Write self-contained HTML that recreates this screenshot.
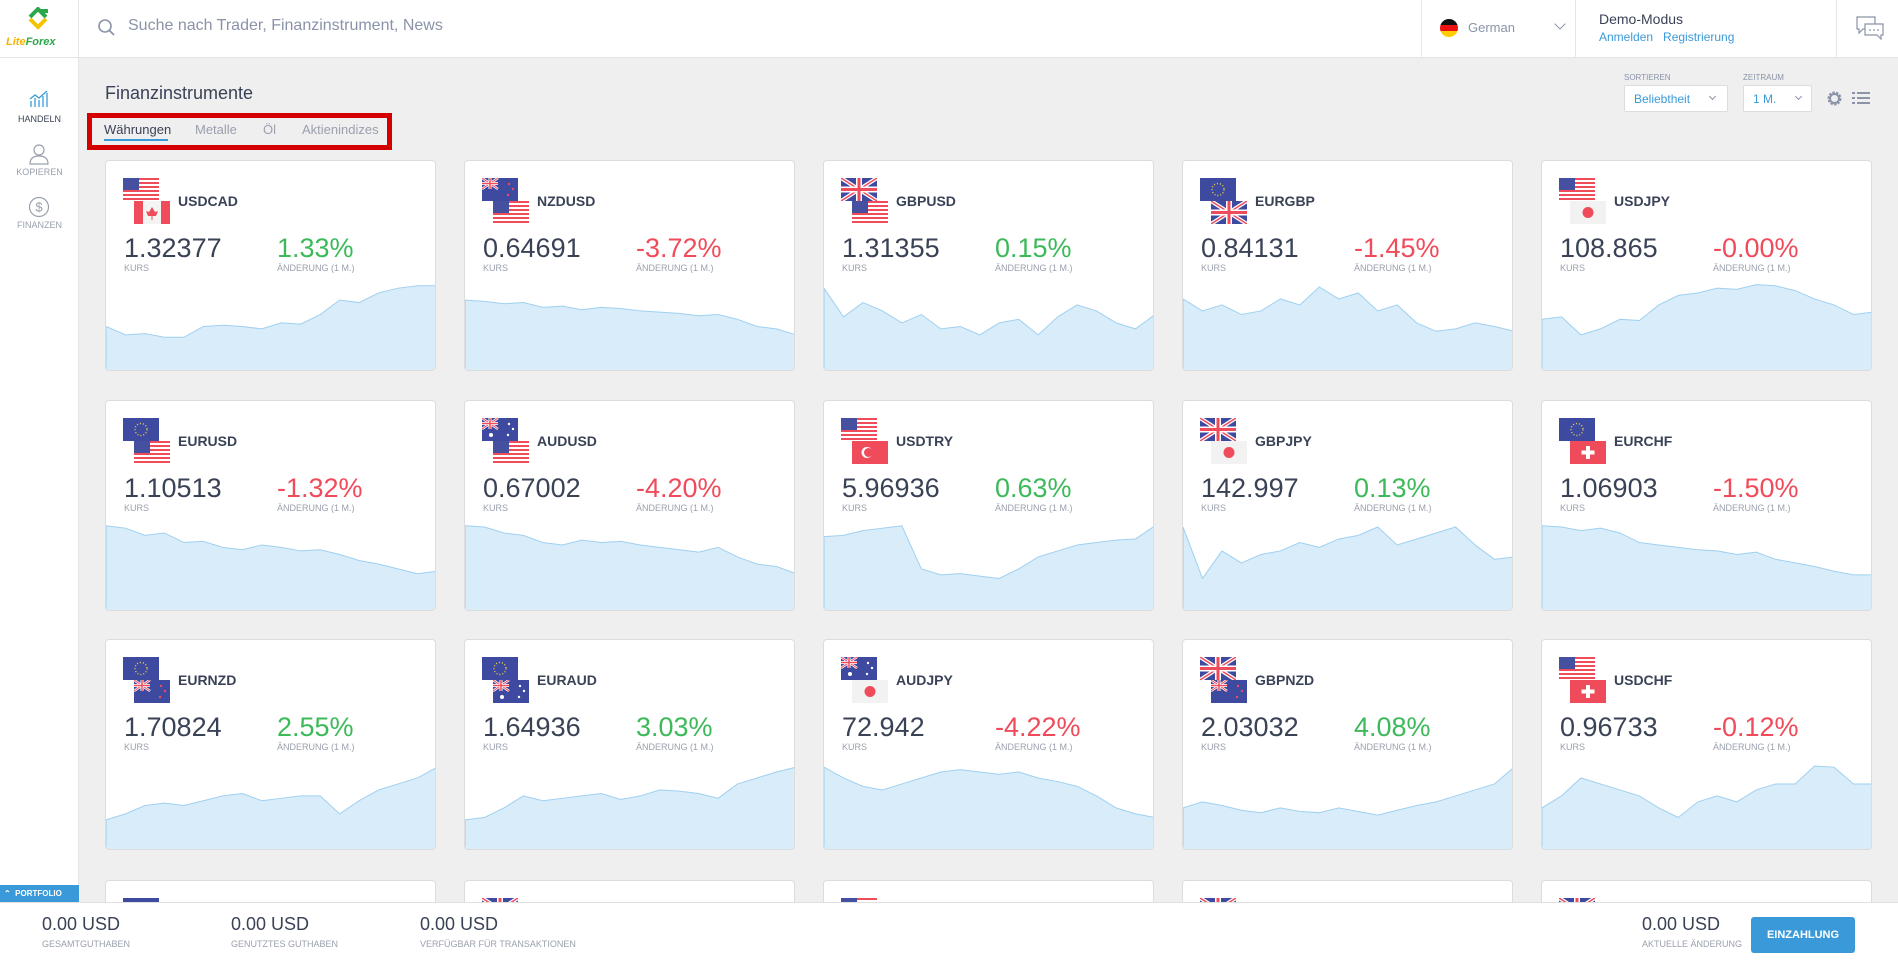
<!DOCTYPE html>
<html style="width:1898px;height:961px;overflow:hidden"><head><meta charset="utf-8">
<style>
*{margin:0;padding:0;box-sizing:border-box}
body{width:1898px;height:961px;overflow:hidden;background:#efefef;font-family:"Liberation Sans",sans-serif;color:#3a4256;position:relative}
.hdr{position:absolute;left:0;top:0;width:1898px;height:58px;background:#fff;border-bottom:1px solid #e3e3e3;z-index:5}
.side{position:absolute;left:0;top:58px;width:79px;height:844px;background:#fff;border-right:1px solid #e6e6e6;z-index:4}
.sep{position:absolute;top:0;height:58px;border-left:1px solid #e6e6e6}
.card{position:absolute;width:331px;height:211px;background:#fff;border:1px solid #dcdcdc;border-radius:4px;overflow:hidden}
.card.s{height:22px;border-bottom:none;border-radius:4px 4px 0 0}
.f1,.f2{position:absolute;width:36px;height:23px}
.f1{left:17px;top:17px}.f2{left:28px;top:40px}
.sym{position:absolute;left:72px;top:32px;font-size:14px;font-weight:bold;color:#3a4256}
.pr{position:absolute;left:18px;top:72px;font-size:27px;color:#3a4256}
.ch{position:absolute;left:171px;top:72px;font-size:27px}
.g{color:#3cba5a}.r{color:#f04b5a}
.lb{position:absolute;top:102px;font-size:9px;color:#9aa0ad}
.chart{position:absolute;left:0;top:120px;width:331px;height:91px}
.bot{position:absolute;left:0;top:902px;width:1898px;height:59px;background:#fff;border-top:1px solid #e0e0e0;z-index:6}
.bv{position:absolute;top:11px;font-size:18px;color:#3a4256}
.bl{position:absolute;top:36px;font-size:9px;color:#9aa0ad}
</style></head><body>
<svg width="0" height="0" style="position:absolute">
<defs>
<symbol id="us" viewBox="0 0 36 23"><rect width="36" height="23" fill="#fff"/><g fill="#f04b5a"><rect y="0" width="36" height="2"/><rect y="4" width="36" height="2"/><rect y="8" width="36" height="2"/><rect y="12" width="36" height="2"/><rect y="16" width="36" height="2"/><rect y="20" width="36" height="2"/></g><rect width="16" height="12" fill="#4650a0"/></symbol>
<symbol id="ca" viewBox="0 0 36 23"><rect width="36" height="23" fill="#f4f4f4"/><rect width="9" height="23" fill="#f04b5a"/><rect x="27" width="9" height="23" fill="#f04b5a"/><path d="M18 6 L21 11 L24 10 L22 15 L14 15 L12 10 L15 11 Z" fill="#f04b5a"/><rect x="17.5" y="15" width="1" height="4" fill="#f04b5a"/></symbol>
<symbol id="eu" viewBox="0 0 36 23"><rect width="36" height="23" fill="#3d4aa0"/><circle cx="18" cy="11.5" r="6" fill="none" stroke="#f5d33c" stroke-width="1.4" stroke-dasharray="1 2"/></symbol>
<symbol id="gb" viewBox="0 0 36 23"><rect width="36" height="23" fill="#3d4aa0"/><path d="M0 0L36 23M36 0L0 23" stroke="#fff" stroke-width="4"/><path d="M0 0L36 23M36 0L0 23" stroke="#f04b5a" stroke-width="1.5"/><path d="M18 0V23M0 11.5H36" stroke="#fff" stroke-width="6"/><path d="M18 0V23M0 11.5H36" stroke="#f04b5a" stroke-width="3"/></symbol>
<symbol id="au" viewBox="0 0 36 23"><rect width="36" height="23" fill="#3d4aa0"/><path d="M0 0L16 11M16 0L0 11" stroke="#fff" stroke-width="2.5"/><path d="M0 0L16 11M16 0L0 11" stroke="#f04b5a" stroke-width="1"/><path d="M8 0V11M0 5.5H16" stroke="#fff" stroke-width="3"/><path d="M8 0V11M0 5.5H16" stroke="#f04b5a" stroke-width="1.5"/><g fill="#fff"><circle cx="27" cy="6" r="1.2"/><circle cx="31" cy="11" r="1.2"/><circle cx="26" cy="17" r="1.2"/><circle cx="9" cy="17" r="2"/></g></symbol>
<symbol id="nz" viewBox="0 0 36 23"><rect width="36" height="23" fill="#3d4aa0"/><path d="M0 0L16 11M16 0L0 11" stroke="#fff" stroke-width="2.5"/><path d="M0 0L16 11M16 0L0 11" stroke="#f04b5a" stroke-width="1"/><path d="M8 0V11M0 5.5H16" stroke="#fff" stroke-width="3"/><path d="M8 0V11M0 5.5H16" stroke="#f04b5a" stroke-width="1.5"/><g fill="#f04b5a"><circle cx="27" cy="6" r="1.2"/><circle cx="31" cy="11" r="1.2"/><circle cx="26" cy="17" r="1.2"/></g></symbol>
<symbol id="jp" viewBox="0 0 36 23"><rect width="36" height="23" fill="#f2f2f2"/><circle cx="18" cy="11.5" r="5.5" fill="#f04b5a"/></symbol>
<symbol id="tr" viewBox="0 0 36 23"><rect width="36" height="23" fill="#f04b5a"/><circle cx="15" cy="11.5" r="5.5" fill="#fff"/><circle cx="16.5" cy="11.5" r="4.5" fill="#f04b5a"/></symbol>
<symbol id="ch" viewBox="0 0 36 23"><rect width="36" height="23" fill="#f04b5a"/><rect x="16" y="5" width="4" height="13" fill="#fff"/><rect x="11.5" y="9.5" width="13" height="4" fill="#fff"/></symbol>
</defs></svg>

<div class="hdr">
 <div style="position:absolute;left:0;top:0;width:79px;height:58px;border-right:1px solid #e6e6e6">
  <svg style="position:absolute;left:26px;top:7px" width="26" height="24" viewBox="0 0 26 24"><path d="M4 12 L12 20 L20 12" fill="none" stroke="#f5c400" stroke-width="4"/><path d="M4 10 L12 2 L20 10 M14 4 L22 4" fill="none" stroke="#2aa84a" stroke-width="4"/></svg>
  <div style="position:absolute;left:6px;top:36px;font-size:11px;font-weight:bold;font-style:italic;color:#f5b400">Lite<span style="color:#2aa84a">Forex</span></div>
 </div>
 <svg style="position:absolute;left:97px;top:18px" width="20" height="20" viewBox="0 0 20 20"><circle cx="8" cy="8" r="6" fill="none" stroke="#8a93a8" stroke-width="1.6"/><path d="M12.5 12.5L17 17" stroke="#8a93a8" stroke-width="1.8"/></svg>
 <div style="position:absolute;left:128px;top:17px;font-size:16px;color:#8a93a8">Suche nach Trader, Finanzinstrument, News</div>
 <div class="sep" style="left:1421px"></div>
 <div style="position:absolute;left:1440px;top:19px;width:18px;height:18px;border-radius:50%;background:linear-gradient(#111 0 33%,#e11 33% 66%,#fc0 66%)"></div>
 <div style="position:absolute;left:1468px;top:20px;font-size:13px;color:#8a93a8">German</div>
 <div style="position:absolute;left:1556px;top:20px;width:8px;height:8px;border-right:1px solid #8a93a8;border-bottom:1px solid #8a93a8;transform:rotate(45deg)"></div>
 <div class="sep" style="left:1575px"></div>
 <div style="position:absolute;left:1599px;top:11px;font-size:14px;color:#3a4256">Demo-Modus</div>
 <div style="position:absolute;left:1599px;top:30px;font-size:12px;color:#3a9ad9">Anmelden&nbsp;&nbsp;&nbsp;Registrierung</div>
 <div class="sep" style="left:1836px"></div>
 <svg style="position:absolute;left:1856px;top:16px" width="28" height="24" viewBox="0 0 28 24"><path d="M1 1H19V13H7L3 17V13H1Z" fill="none" stroke="#8a93a8" stroke-width="1.2"/><path d="M9 8H27V19H25V23L21 19H9Z" fill="#fff" stroke="#8a93a8" stroke-width="1.2"/><g fill="#8a93a8"><circle cx="14" cy="14" r="0.9"/><circle cx="18" cy="14" r="0.9"/><circle cx="22" cy="14" r="0.9"/></g></svg>
</div>

<div class="side">
 <svg style="position:absolute;left:29px;top:32px" width="20" height="18" viewBox="0 0 20 18"><g fill="none" stroke="#3a9ad9" stroke-width="1.3"><path d="M2 17V11M6 17V8M10 17V10M14 17V6M18 17V3"/><path d="M1 9L6 5L10 8L18 1"/></g></svg>
 <div style="position:absolute;left:0;width:79px;top:56px;text-align:center;font-size:9px;color:#3a4256">HANDELN</div>
 <svg style="position:absolute;left:28px;top:85px" width="22" height="22" viewBox="0 0 22 22"><g fill="none" stroke="#9aa0ad" stroke-width="1.2"><circle cx="11" cy="7" r="5"/><path d="M2 21C2 15 6 13 11 13C16 13 20 15 20 21Z"/></g></svg>
 <div style="position:absolute;left:0;width:79px;top:109px;text-align:center;font-size:9px;color:#9aa0ad">KOPIEREN</div>
 <svg style="position:absolute;left:28px;top:138px" width="22" height="22" viewBox="0 0 22 22"><circle cx="11" cy="11" r="9.5" fill="none" stroke="#9aa0ad" stroke-width="1.2"/><text x="11" y="15.5" text-anchor="middle" font-size="13" fill="#9aa0ad" font-family="Liberation Sans">$</text></svg>
 <div style="position:absolute;left:0;width:79px;top:162px;text-align:center;font-size:9px;color:#9aa0ad">FINANZEN</div>
 <div style="position:absolute;left:0;top:827px;width:79px;height:17px;background:#3a9ad9;color:#fff;font-size:8px;font-weight:bold;line-height:17px;padding-left:4px">&#8963; &nbsp;PORTFOLIO</div>
</div>

<div style="position:absolute;left:105px;top:83px;font-size:18px;color:#3a4256">Finanzinstrumente</div>
<div style="position:absolute;left:87px;top:113px;width:305px;height:37px;border:5px solid #d40000"></div>
<div style="position:absolute;left:104px;top:122px;font-size:13px;color:#3a4256">Währungen</div>
<div style="position:absolute;left:104px;top:139px;width:64px;height:2px;background:#3a9ad9"></div>
<div style="position:absolute;left:195px;top:122px;font-size:13px;color:#9aa0ad">Metalle</div>
<div style="position:absolute;left:263px;top:122px;font-size:13px;color:#9aa0ad">Öl</div>
<div style="position:absolute;left:302px;top:122px;font-size:13px;color:#9aa0ad">Aktienindizes</div>

<div style="position:absolute;left:1624px;top:73px;font-size:8px;color:#8a93a8">SORTIEREN</div>
<div style="position:absolute;left:1624px;top:85px;width:104px;height:27px;background:#fff;border:1px solid #dcdcdc;border-radius:2px;font-size:12px;color:#3a9ad9;padding:6px 0 0 9px">Beliebtheit</div>
<div style="position:absolute;left:1710px;top:94px;width:5px;height:5px;border-right:1px solid #8a93a8;border-bottom:1px solid #8a93a8;transform:rotate(45deg)"></div>
<div style="position:absolute;left:1743px;top:73px;font-size:8px;color:#8a93a8">ZEITRAUM</div>
<div style="position:absolute;left:1743px;top:85px;width:69px;height:27px;background:#fff;border:1px solid #dcdcdc;border-radius:2px;font-size:12px;color:#3a9ad9;padding:6px 0 0 9px">1 M.</div>
<div style="position:absolute;left:1796px;top:94px;width:5px;height:5px;border-right:1px solid #8a93a8;border-bottom:1px solid #8a93a8;transform:rotate(45deg)"></div>
<svg style="position:absolute;left:1826px;top:90px" width="17" height="17" viewBox="0 0 17 17"><circle cx="8.5" cy="8.5" r="5.5" fill="none" stroke="#8a93a8" stroke-width="3" stroke-dasharray="2.2 1.2"/><circle cx="8.5" cy="8.5" r="4.5" fill="none" stroke="#8a93a8" stroke-width="2"/></svg>
<svg style="position:absolute;left:1852px;top:91px" width="18" height="15" viewBox="0 0 18 15"><g fill="#8a93a8"><rect x="0" y="1" width="3" height="2"/><rect x="5" y="1" width="13" height="2"/><rect x="0" y="6" width="3" height="2"/><rect x="5" y="6" width="13" height="2"/><rect x="0" y="11" width="3" height="2"/><rect x="5" y="11" width="13" height="2"/></g></svg>

<!-- ROW 1 -->
<div class="card" style="left:105px;top:160px"><svg class="f1"><use href="#us"/></svg><svg class="f2"><use href="#ca"/></svg><div class="sym">USDCAD</div><div class="pr">1.32377</div><div class="lb" style="left:18px">KURS</div><div class="ch g">1.33%</div><div class="lb" style="left:171px">ÄNDERUNG (1 M.)</div>
<svg class="chart" viewBox="0 0 170 76" preserveAspectRatio="none"><path d="M0 38L10 45L20 44L30 47L40 47L50 38L60 37L70 38L80 40L90 35L100 36L110 28L120 16L130 18L140 10L150 6L160 4L170 4V76H0Z" fill="#d9ecfa" stroke="#9fd0f0" stroke-width="1" vector-effect="non-scaling-stroke"/></svg></div>
<div class="card" style="left:464px;top:160px"><svg class="f1"><use href="#nz"/></svg><svg class="f2"><use href="#us"/></svg><div class="sym">NZDUSD</div><div class="pr">0.64691</div><div class="lb" style="left:18px">KURS</div><div class="ch r">-3.72%</div><div class="lb" style="left:171px">ÄNDERUNG (1 M.)</div>
<svg class="chart" viewBox="0 0 170 76" preserveAspectRatio="none"><path d="M0 16L10 17L20 19L30 18L40 22L50 21L60 24L70 22L80 23L90 25L100 26L110 27L120 29L130 28L140 32L150 38L160 40L170 45V76H0Z" fill="#d9ecfa" stroke="#9fd0f0" stroke-width="1" vector-effect="non-scaling-stroke"/></svg></div>
<div class="card" style="left:823px;top:160px"><svg class="f1"><use href="#gb"/></svg><svg class="f2"><use href="#us"/></svg><div class="sym">GBPUSD</div><div class="pr">1.31355</div><div class="lb" style="left:18px">KURS</div><div class="ch g">0.15%</div><div class="lb" style="left:171px">ÄNDERUNG (1 M.)</div>
<svg class="chart" viewBox="0 0 170 76" preserveAspectRatio="none"><path d="M0 6L10 30L20 18L30 25L40 35L50 28L60 40L70 38L80 45L90 35L100 32L110 45L120 30L130 20L140 25L150 35L160 40L170 28V76H0Z" fill="#d9ecfa" stroke="#9fd0f0" stroke-width="1" vector-effect="non-scaling-stroke"/></svg></div>
<div class="card" style="left:1182px;top:160px"><svg class="f1"><use href="#eu"/></svg><svg class="f2"><use href="#gb"/></svg><div class="sym">EURGBP</div><div class="pr">0.84131</div><div class="lb" style="left:18px">KURS</div><div class="ch r">-1.45%</div><div class="lb" style="left:171px">ÄNDERUNG (1 M.)</div>
<svg class="chart" viewBox="0 0 170 76" preserveAspectRatio="none"><path d="M0 15L10 25L20 20L30 28L40 25L50 15L60 20L70 5L80 15L90 10L100 25L110 20L120 35L130 42L140 40L150 35L160 38L170 42V76H0Z" fill="#d9ecfa" stroke="#9fd0f0" stroke-width="1" vector-effect="non-scaling-stroke"/></svg></div>
<div class="card" style="left:1541px;top:160px"><svg class="f1"><use href="#us"/></svg><svg class="f2"><use href="#jp"/></svg><div class="sym">USDJPY</div><div class="pr">108.865</div><div class="lb" style="left:18px">KURS</div><div class="ch r">-0.00%</div><div class="lb" style="left:171px">ÄNDERUNG (1 M.)</div>
<svg class="chart" viewBox="0 0 170 76" preserveAspectRatio="none"><path d="M0 32L10 30L20 45L30 40L40 32L50 33L60 20L70 12L80 10L90 6L100 7L110 3L120 4L130 8L140 15L150 20L160 28L170 26V76H0Z" fill="#d9ecfa" stroke="#9fd0f0" stroke-width="1" vector-effect="non-scaling-stroke"/></svg></div>

<!-- ROW 2 -->
<div class="card" style="left:105px;top:400px"><svg class="f1"><use href="#eu"/></svg><svg class="f2"><use href="#us"/></svg><div class="sym">EURUSD</div><div class="pr">1.10513</div><div class="lb" style="left:18px">KURS</div><div class="ch r">-1.32%</div><div class="lb" style="left:171px">ÄNDERUNG (1 M.)</div>
<svg class="chart" viewBox="0 0 170 76" preserveAspectRatio="none"><path d="M0 4L10 6L20 12L30 10L40 18L50 17L60 22L70 24L80 20L90 22L100 25L110 24L120 28L130 33L140 36L150 40L160 44L170 42V76H0Z" fill="#d9ecfa" stroke="#9fd0f0" stroke-width="1" vector-effect="non-scaling-stroke"/></svg></div>
<div class="card" style="left:464px;top:400px"><svg class="f1"><use href="#au"/></svg><svg class="f2"><use href="#us"/></svg><div class="sym">AUDUSD</div><div class="pr">0.67002</div><div class="lb" style="left:18px">KURS</div><div class="ch r">-4.20%</div><div class="lb" style="left:171px">ÄNDERUNG (1 M.)</div>
<svg class="chart" viewBox="0 0 170 76" preserveAspectRatio="none"><path d="M0 4L10 5L20 10L30 12L40 18L50 20L60 16L70 18L80 17L90 20L100 22L110 24L120 26L130 22L140 30L150 36L160 38L170 44V76H0Z" fill="#d9ecfa" stroke="#9fd0f0" stroke-width="1" vector-effect="non-scaling-stroke"/></svg></div>
<div class="card" style="left:823px;top:400px"><svg class="f1"><use href="#us"/></svg><svg class="f2"><use href="#tr"/></svg><div class="sym">USDTRY</div><div class="pr">5.96936</div><div class="lb" style="left:18px">KURS</div><div class="ch g">0.63%</div><div class="lb" style="left:171px">ÄNDERUNG (1 M.)</div>
<svg class="chart" viewBox="0 0 170 76" preserveAspectRatio="none"><path d="M0 13L10 12L20 8L30 6L40 4L50 40L60 45L70 44L80 46L90 48L100 40L110 30L120 25L130 20L140 18L150 16L160 15L170 4V76H0Z" fill="#d9ecfa" stroke="#9fd0f0" stroke-width="1" vector-effect="non-scaling-stroke"/></svg></div>
<div class="card" style="left:1182px;top:400px"><svg class="f1"><use href="#gb"/></svg><svg class="f2"><use href="#jp"/></svg><div class="sym">GBPJPY</div><div class="pr">142.997</div><div class="lb" style="left:18px">KURS</div><div class="ch g">0.13%</div><div class="lb" style="left:171px">ÄNDERUNG (1 M.)</div>
<svg class="chart" viewBox="0 0 170 76" preserveAspectRatio="none"><path d="M0 5L10 48L20 25L30 35L40 28L50 25L60 18L70 22L80 15L90 12L100 5L110 20L120 15L130 10L140 5L150 20L160 32L170 30V76H0Z" fill="#d9ecfa" stroke="#9fd0f0" stroke-width="1" vector-effect="non-scaling-stroke"/></svg></div>
<div class="card" style="left:1541px;top:400px"><svg class="f1"><use href="#eu"/></svg><svg class="f2"><use href="#ch"/></svg><div class="sym">EURCHF</div><div class="pr">1.06903</div><div class="lb" style="left:18px">KURS</div><div class="ch r">-1.50%</div><div class="lb" style="left:171px">ÄNDERUNG (1 M.)</div>
<svg class="chart" viewBox="0 0 170 76" preserveAspectRatio="none"><path d="M0 4L10 5L20 8L30 6L40 10L50 18L60 20L70 22L80 24L90 25L100 28L110 26L120 32L130 35L140 38L150 42L160 45L170 45V76H0Z" fill="#d9ecfa" stroke="#9fd0f0" stroke-width="1" vector-effect="non-scaling-stroke"/></svg></div>

<!-- ROW 3 -->
<div class="card" style="left:105px;top:639px"><svg class="f1"><use href="#eu"/></svg><svg class="f2"><use href="#nz"/></svg><div class="sym">EURNZD</div><div class="pr">1.70824</div><div class="lb" style="left:18px">KURS</div><div class="ch g">2.55%</div><div class="lb" style="left:171px">ÄNDERUNG (1 M.)</div>
<svg class="chart" viewBox="0 0 170 76" preserveAspectRatio="none"><path d="M0 50L10 45L20 38L30 36L40 38L50 34L60 30L70 28L80 34L90 32L100 30L110 30L120 45L130 34L140 25L150 20L160 15L170 6V76H0Z" fill="#d9ecfa" stroke="#9fd0f0" stroke-width="1" vector-effect="non-scaling-stroke"/></svg></div>
<div class="card" style="left:464px;top:639px"><svg class="f1"><use href="#eu"/></svg><svg class="f2"><use href="#au"/></svg><div class="sym">EURAUD</div><div class="pr">1.64936</div><div class="lb" style="left:18px">KURS</div><div class="ch g">3.03%</div><div class="lb" style="left:171px">ÄNDERUNG (1 M.)</div>
<svg class="chart" viewBox="0 0 170 76" preserveAspectRatio="none"><path d="M0 50L10 48L20 40L30 30L40 34L50 32L60 30L70 28L80 33L90 30L100 25L110 26L120 28L130 32L140 20L150 15L160 10L170 6V76H0Z" fill="#d9ecfa" stroke="#9fd0f0" stroke-width="1" vector-effect="non-scaling-stroke"/></svg></div>
<div class="card" style="left:823px;top:639px"><svg class="f1"><use href="#au"/></svg><svg class="f2"><use href="#jp"/></svg><div class="sym">AUDJPY</div><div class="pr">72.942</div><div class="lb" style="left:18px">KURS</div><div class="ch r">-4.22%</div><div class="lb" style="left:171px">ÄNDERUNG (1 M.)</div>
<svg class="chart" viewBox="0 0 170 76" preserveAspectRatio="none"><path d="M0 6L10 15L20 22L30 25L40 20L50 15L60 10L70 8L80 10L90 12L100 10L110 15L120 18L130 22L140 30L150 40L160 45L170 48V76H0Z" fill="#d9ecfa" stroke="#9fd0f0" stroke-width="1" vector-effect="non-scaling-stroke"/></svg></div>
<div class="card" style="left:1182px;top:639px"><svg class="f1"><use href="#gb"/></svg><svg class="f2"><use href="#nz"/></svg><div class="sym">GBPNZD</div><div class="pr">2.03032</div><div class="lb" style="left:18px">KURS</div><div class="ch g">4.08%</div><div class="lb" style="left:171px">ÄNDERUNG (1 M.)</div>
<svg class="chart" viewBox="0 0 170 76" preserveAspectRatio="none"><path d="M0 40L10 35L20 38L30 42L40 44L50 40L60 43L70 44L80 40L90 43L100 46L110 42L120 38L130 35L140 30L150 25L160 20L170 6V76H0Z" fill="#d9ecfa" stroke="#9fd0f0" stroke-width="1" vector-effect="non-scaling-stroke"/></svg></div>
<div class="card" style="left:1541px;top:639px"><svg class="f1"><use href="#us"/></svg><svg class="f2"><use href="#ch"/></svg><div class="sym">USDCHF</div><div class="pr">0.96733</div><div class="lb" style="left:18px">KURS</div><div class="ch r">-0.12%</div><div class="lb" style="left:171px">ÄNDERUNG (1 M.)</div>
<svg class="chart" viewBox="0 0 170 76" preserveAspectRatio="none"><path d="M0 40L10 30L20 15L30 20L40 25L50 30L60 40L70 48L80 35L90 30L100 35L110 25L120 20L130 20L140 5L150 6L160 20L170 20V76H0Z" fill="#d9ecfa" stroke="#9fd0f0" stroke-width="1" vector-effect="non-scaling-stroke"/></svg></div>

<!-- ROW 4 (partial) -->
<div class="card s" style="left:105px;top:880px"><svg class="f1"><use href="#eu"/></svg></div>
<div class="card s" style="left:464px;top:880px"><svg class="f1"><use href="#gb"/></svg></div>
<div class="card s" style="left:823px;top:880px"><svg class="f1"><use href="#us"/></svg></div>
<div class="card s" style="left:1182px;top:880px"><svg class="f1"><use href="#gb"/></svg></div>
<div class="card s" style="left:1541px;top:880px"><svg class="f1"><use href="#gb"/></svg></div>

<div class="bot">
 <div class="bv" style="left:42px">0.00 USD</div><div class="bl" style="left:42px">GESAMTGUTHABEN</div>
 <div class="bv" style="left:231px">0.00 USD</div><div class="bl" style="left:231px">GENUTZTES GUTHABEN</div>
 <div class="bv" style="left:420px">0.00 USD</div><div class="bl" style="left:420px">VERFÜGBAR FÜR TRANSAKTIONEN</div>
 <div class="bv" style="left:1642px">0.00 USD</div><div class="bl" style="left:1642px">AKTUELLE ÄNDERUNG</div>
 <div style="position:absolute;left:1751px;top:14px;width:104px;height:36px;background:#3a9ad9;border-radius:3px;color:#fff;font-size:11px;font-weight:bold;text-align:center;line-height:36px">EINZAHLUNG</div>
</div>
</body></html>
